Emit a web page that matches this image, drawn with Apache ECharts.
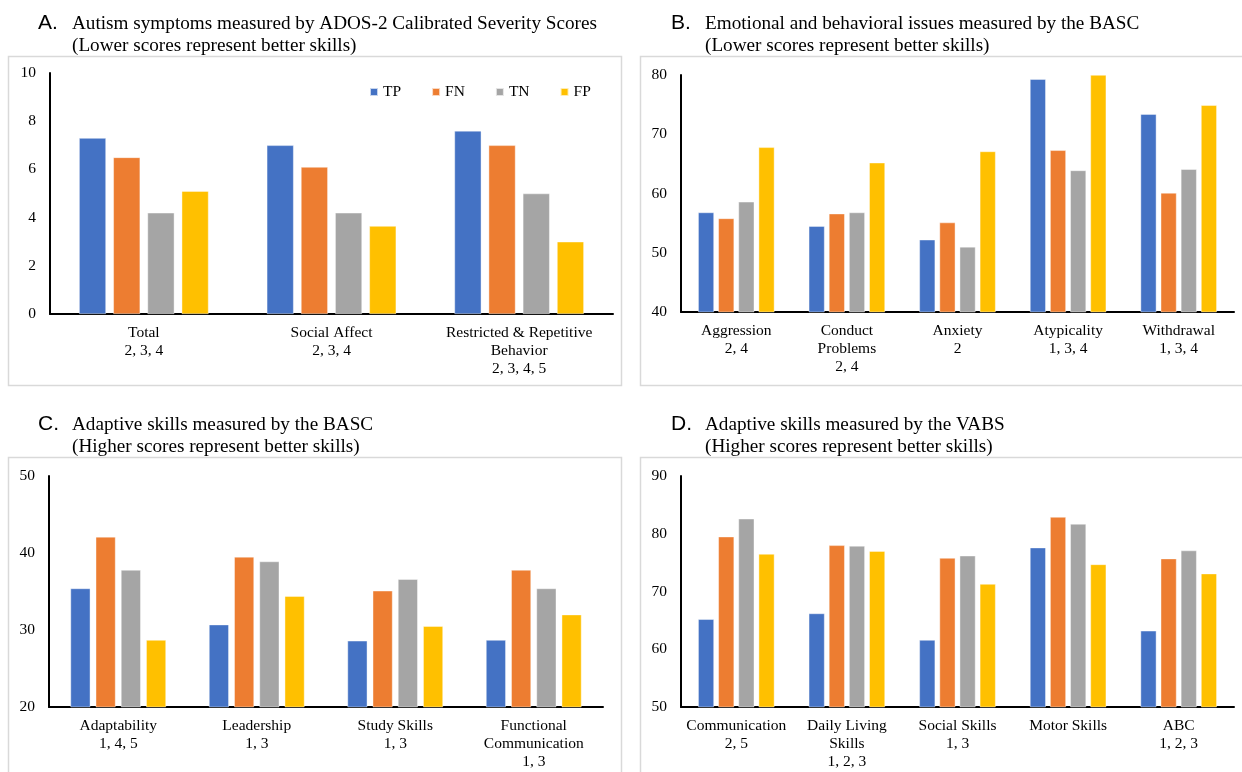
<!DOCTYPE html>
<html>
<head>
<meta charset="utf-8">
<script src="https://cdn.jsdelivr.net/npm/echarts@6/dist/echarts.min.js"></script>
<style>
  html, body { margin: 0; padding: 0; background: #fff; }
  #chart { width: 1242px; height: 772px; }
</style>
</head>
<body>
<div id="chart"></div>
<script>
// groups and colours
const groups = ['TP', 'FN', 'TN', 'FP'];
const groupColors = ['#4472C4', '#ED7D31', '#A5A5A5', '#FFC000'];

// A. ADOS-2 calibrated severity scores
const adosCats = ['Total\n2, 3, 4', 'Social Affect\n2, 3, 4', 'Restricted & Repetitive\nBehavior\n2, 3, 4, 5'];
const adosTP = [7.3, 7.0, 7.6];
const adosFN = [6.5, 6.1, 7.0];
const adosTN = [4.2, 4.2, 5.0];
const adosFP = [5.1, 3.65, 3.0];

// B. BASC emotional / behavioral
const bascIssueCats = ['Aggression\n2, 4', 'Conduct\nProblems\n2, 4', 'Anxiety\n2', 'Atypicality\n1, 3, 4', 'Withdrawal\n1, 3, 4'];
const bascIssueTP = [56.8, 54.5, 52.2, 79.3, 73.4];
const bascIssueFN = [55.8, 56.6, 55.1, 67.3, 60.1];
const bascIssueTN = [58.6, 56.8, 51.0, 63.9, 64.1];
const bascIssueFP = [67.8, 65.2, 67.1, 80.0, 74.9];

// C. BASC adaptive skills
const bascAdaptCats = ['Adaptability\n1, 4, 5', 'Leadership\n1, 3', 'Study Skills\n1, 3', 'Functional\nCommunication\n1, 3'];
const bascAdaptTP = [35.4, 30.7, 28.6, 28.7];
const bascAdaptFN = [42.1, 39.5, 35.1, 37.8];
const bascAdaptTN = [37.8, 38.9, 36.6, 35.4];
const bascAdaptFP = [28.7, 34.4, 30.5, 32.0];

// D. VABS adaptive skills
const vabsCats = ['Communication\n2, 5', 'Daily Living\nSkills\n1, 2, 3', 'Social Skills\n1, 3', 'Motor Skills', 'ABC\n1, 2, 3'];
const vabsTP = [65.2, 66.2, 61.6, 77.6, 63.2];
const vabsFN = [79.5, 78.0, 75.8, 82.9, 75.7];
const vabsTN = [82.6, 77.9, 76.2, 81.7, 77.1];
const vabsFP = [76.5, 77.0, 71.3, 74.7, 73.1];

const serif = '"Liberation Serif", "Times New Roman", serif';

const panels = [
  { letter: 'A.', title: 'Autism symptoms measured by ADOS-2 Calibrated Severity Scores\n(Lower scores represent better skills)',
    cats: adosCats, values: [adosTP, adosFN, adosTN, adosFP], min: 0, max: 10, interval: 2,
    grid: { left: 50, top: 73, width: 563, height: 241 }, titleX: 38, titleY: 12, box: [8, 56, 613, 329] },
  { letter: 'B.', title: 'Emotional and behavioral issues measured by the BASC\n(Lower scores represent better skills)',
    cats: bascIssueCats, values: [bascIssueTP, bascIssueFN, bascIssueTN, bascIssueFP], min: 40, max: 80, interval: 10,
    grid: { left: 681, top: 75, width: 553, height: 237 }, titleX: 671, titleY: 12, box: [640, 56, 620, 329] },
  { letter: 'C.', title: 'Adaptive skills measured by the BASC\n(Higher scores represent better skills)',
    cats: bascAdaptCats, values: [bascAdaptTP, bascAdaptFN, bascAdaptTN, bascAdaptFP], min: 20, max: 50, interval: 10,
    grid: { left: 49, top: 476, width: 554, height: 231 }, titleX: 38, titleY: 413, box: [8, 457, 613, 340] },
  { letter: 'D.', title: 'Adaptive skills measured by the VABS\n(Higher scores represent better skills)',
    cats: vabsCats, values: [vabsTP, vabsFN, vabsTN, vabsFP], min: 50, max: 90, interval: 10,
    grid: { left: 681, top: 476, width: 553, height: 231 }, titleX: 671, titleY: 413, box: [640, 457, 620, 340] }
];

const titles = [];
const grids = [];
const xAxes = [];
const yAxes = [];
const series = [];
const boxes = [];

panels.forEach((p, i) => {
  titles.push({
    text: p.letter, left: p.titleX, top: p.titleY, padding: 0,
    textStyle: { fontFamily: '"Liberation Sans", Arial, sans-serif', fontSize: 21, fontWeight: 'normal', color: '#000', lineHeight: 22 }
  });
  titles.push({
    text: p.title, left: p.titleX + 34, top: p.titleY + 1, padding: 0,
    textStyle: { fontFamily: serif, fontSize: 19.2, fontWeight: 'normal', color: '#000', lineHeight: 22 }
  });
  grids.push(Object.assign({ containLabel: false }, p.grid));
  xAxes.push({
    type: 'category', gridIndex: i, data: p.cats,
    axisTick: { show: false },
    axisLine: { show: true, lineStyle: { color: '#000', width: 2 } },
    axisLabel: { interval: 0, margin: 10, fontFamily: serif, fontSize: 15.5, color: '#000', lineHeight: 18 }
  });
  yAxes.push({
    type: 'value', gridIndex: i, min: p.min, max: p.max, interval: p.interval,
    axisLine: { show: true, lineStyle: { color: '#000', width: 2 } },
    axisTick: { show: false },
    splitLine: { show: false },
    axisLabel: { margin: 14, fontFamily: serif, fontSize: 15.5, color: '#000' }
  });
  p.values.forEach((vals, k) => {
    series.push({
      name: groups[k], type: 'bar', xAxisIndex: i, yAxisIndex: i, data: vals,
      barGap: '27%', barCategoryGap: '31%',
      itemStyle: { color: groupColors[k], borderColor: 'rgba(255,255,255,0.7)', borderWidth: 0.6 }
    });
  });
  boxes.push({
    type: 'rect', silent: true, z: -1,
    shape: { x: p.box[0] + 0.5, y: p.box[1] + 0.5, width: p.box[2], height: p.box[3] },
    style: { fill: 'none', stroke: '#D9D9D9', lineWidth: 1.5 }
  });
});

const chart = echarts.init(document.getElementById('chart'), null, { renderer: 'canvas' });
chart.setOption({
  backgroundColor: '#fff',
  animation: false,
  color: groupColors,
  title: titles,
  legend: {
    data: groups, left: 369, top: 84, padding: 0, icon: 'rect', itemWidth: 8, itemHeight: 8, itemGap: 30,
    textStyle: { fontFamily: serif, fontSize: 15.5, color: '#000' }
  },
  grid: grids,
  xAxis: xAxes,
  yAxis: yAxes,
  series: series,
  graphic: boxes
});
</script>
</body>
</html>
